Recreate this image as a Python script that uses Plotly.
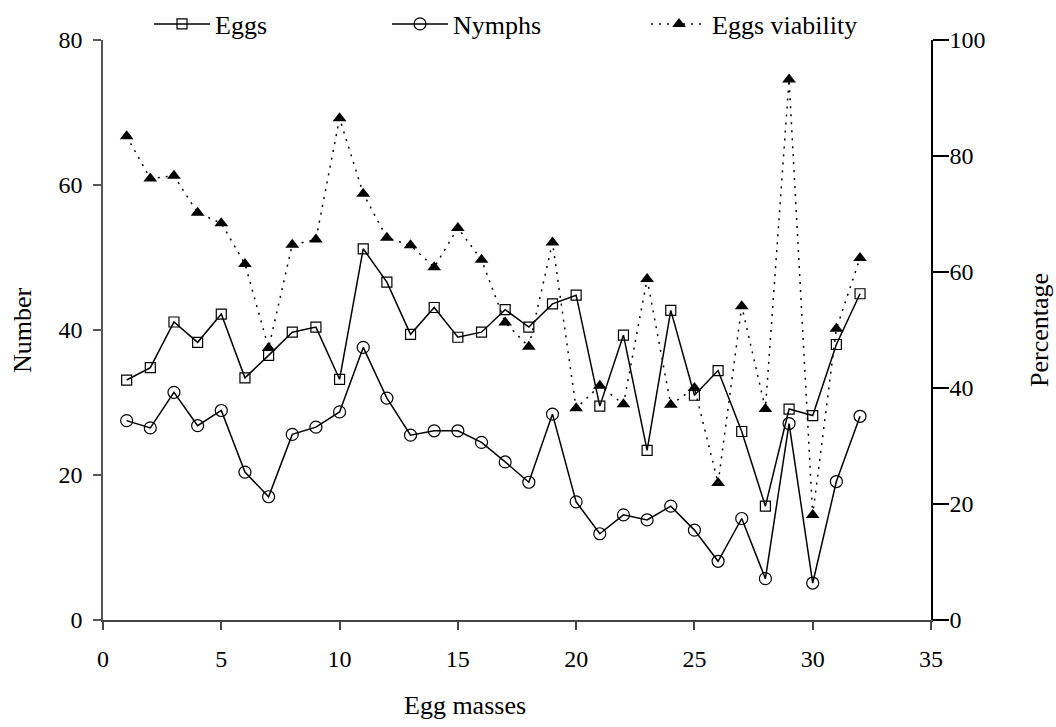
import plotly.graph_objects as go

egg_masses = list(range(1, 33))
eggs = [33.1, 34.8, 41.1, 38.3, 42.2, 33.4, 36.5, 39.7, 40.4, 33.2,
        51.2, 46.6, 39.4, 43.1, 39.0, 39.7, 42.8, 40.4, 43.6, 44.8,
        29.5, 39.3, 23.4, 42.7, 31.0, 34.4, 26.0, 15.7, 29.1, 28.2,
        38.0, 45.0]
nymphs = [27.5, 26.5, 31.4, 26.8, 28.9, 20.4, 17.0, 25.6, 26.6, 28.7,
          37.6, 30.6, 25.5, 26.1, 26.1, 24.5, 21.8, 19.0, 28.4, 16.3,
          11.9, 14.5, 13.8, 15.7, 12.4, 8.1, 14.0, 5.7, 27.1, 5.1,
          19.1, 28.1]
viability = [83.4, 76.1, 76.6, 70.2, 68.4, 61.4, 46.9, 64.7, 65.6, 86.5,
             73.5, 65.9, 64.6, 60.8, 67.6, 62.1, 51.3, 47.1, 65.1, 36.5,
             40.4, 37.2, 58.8, 37.1, 40.0, 23.6, 54.1, 36.4, 93.2, 18.1,
             50.2, 62.4]

FONT = "Liberation Serif"

fig = go.Figure()
fig.add_trace(go.Scatter(
    x=egg_masses, y=eggs, name="Eggs", mode="lines+markers",
    line=dict(color="black", width=1.5),
    marker=dict(symbol="square-open", size=10, color="black", line=dict(width=1.2)),
    legend="legend", yaxis="y"))
fig.add_trace(go.Scatter(
    x=egg_masses, y=nymphs, name="Nymphs", mode="lines+markers",
    line=dict(color="black", width=1.5),
    marker=dict(symbol="circle-open", size=12, color="black", line=dict(width=1.2)),
    legend="legend2", yaxis="y"))
fig.add_trace(go.Scatter(
    x=egg_masses, y=viability, name="Eggs viability", mode="lines+markers",
    line=dict(color="black", width=1.5, dash="2px,6px"),
    marker=dict(symbol="triangle-up", size=12, color="black"),
    legend="legend3", yaxis="y2"))

axis_font = dict(family=FONT, size=24, color="black")
title_font = dict(family=FONT, size=26, color="black")
leg_common = dict(orientation="h", xref="container", yref="container",
                  yanchor="middle", xanchor="left", y=1 - 24 / 727,
                  font=dict(family=FONT, size=26, color="black"),
                  bgcolor="rgba(0,0,0,0)", itemwidth=56)

fig.update_layout(
    width=1056, height=727,
    margin=dict(l=103, r=125, t=40, b=107, autoexpand=False),
    plot_bgcolor="white", paper_bgcolor="white",
    font=dict(family=FONT, color="black"),
    showlegend=True,
    legend=dict(x=149 / 1056, **leg_common),
    legend2=dict(x=387 / 1056, **leg_common),
    legend3=dict(x=646 / 1056, **leg_common),
    xaxis=dict(range=[0, 35], dtick=5, tick0=0, showgrid=False, zeroline=False,
               showline=True, linecolor="#444", linewidth=1.5,
               ticks="outside", ticklen=8, tickcolor="#444", tickwidth=1.5,
               tickfont=axis_font, ticklabelstandoff=8),
    yaxis=dict(range=[0, 80], dtick=20, tick0=0, showgrid=False, zeroline=False,
               showline=True, linecolor="#555", linewidth=1.5,
               ticks="outside", ticklen=8, tickcolor="#555", tickwidth=1.5,
               tickfont=axis_font, ticklabelstandoff=6),
    yaxis2=dict(range=[0, 100], dtick=20, tick0=0, overlaying="y", side="right",
                showgrid=False, zeroline=False,
                showline=True, linecolor="black", linewidth=1.5,
                ticks="outside", ticklen=16, tickcolor="black", tickwidth=1.5,
                tickfont=axis_font, ticklabelstandoff=-4),
    annotations=[
        dict(text="Number", xref="paper", yref="paper", x=0, y=0.5,
             xshift=-81, textangle=-90, showarrow=False, font=title_font,
             xanchor="center", yanchor="middle"),
        dict(text="Percentage", xref="paper", yref="paper", x=1, y=0.5,
             xshift=108, textangle=-90, showarrow=False, font=title_font,
             xanchor="center", yanchor="middle"),
        dict(text="Egg masses", xref="paper", yref="paper", x=(465 - 103) / 828, y=0,
             yshift=-85, showarrow=False, font=title_font,
             xanchor="center", yanchor="middle"),
    ],
)

fig.write_html("out.html")
